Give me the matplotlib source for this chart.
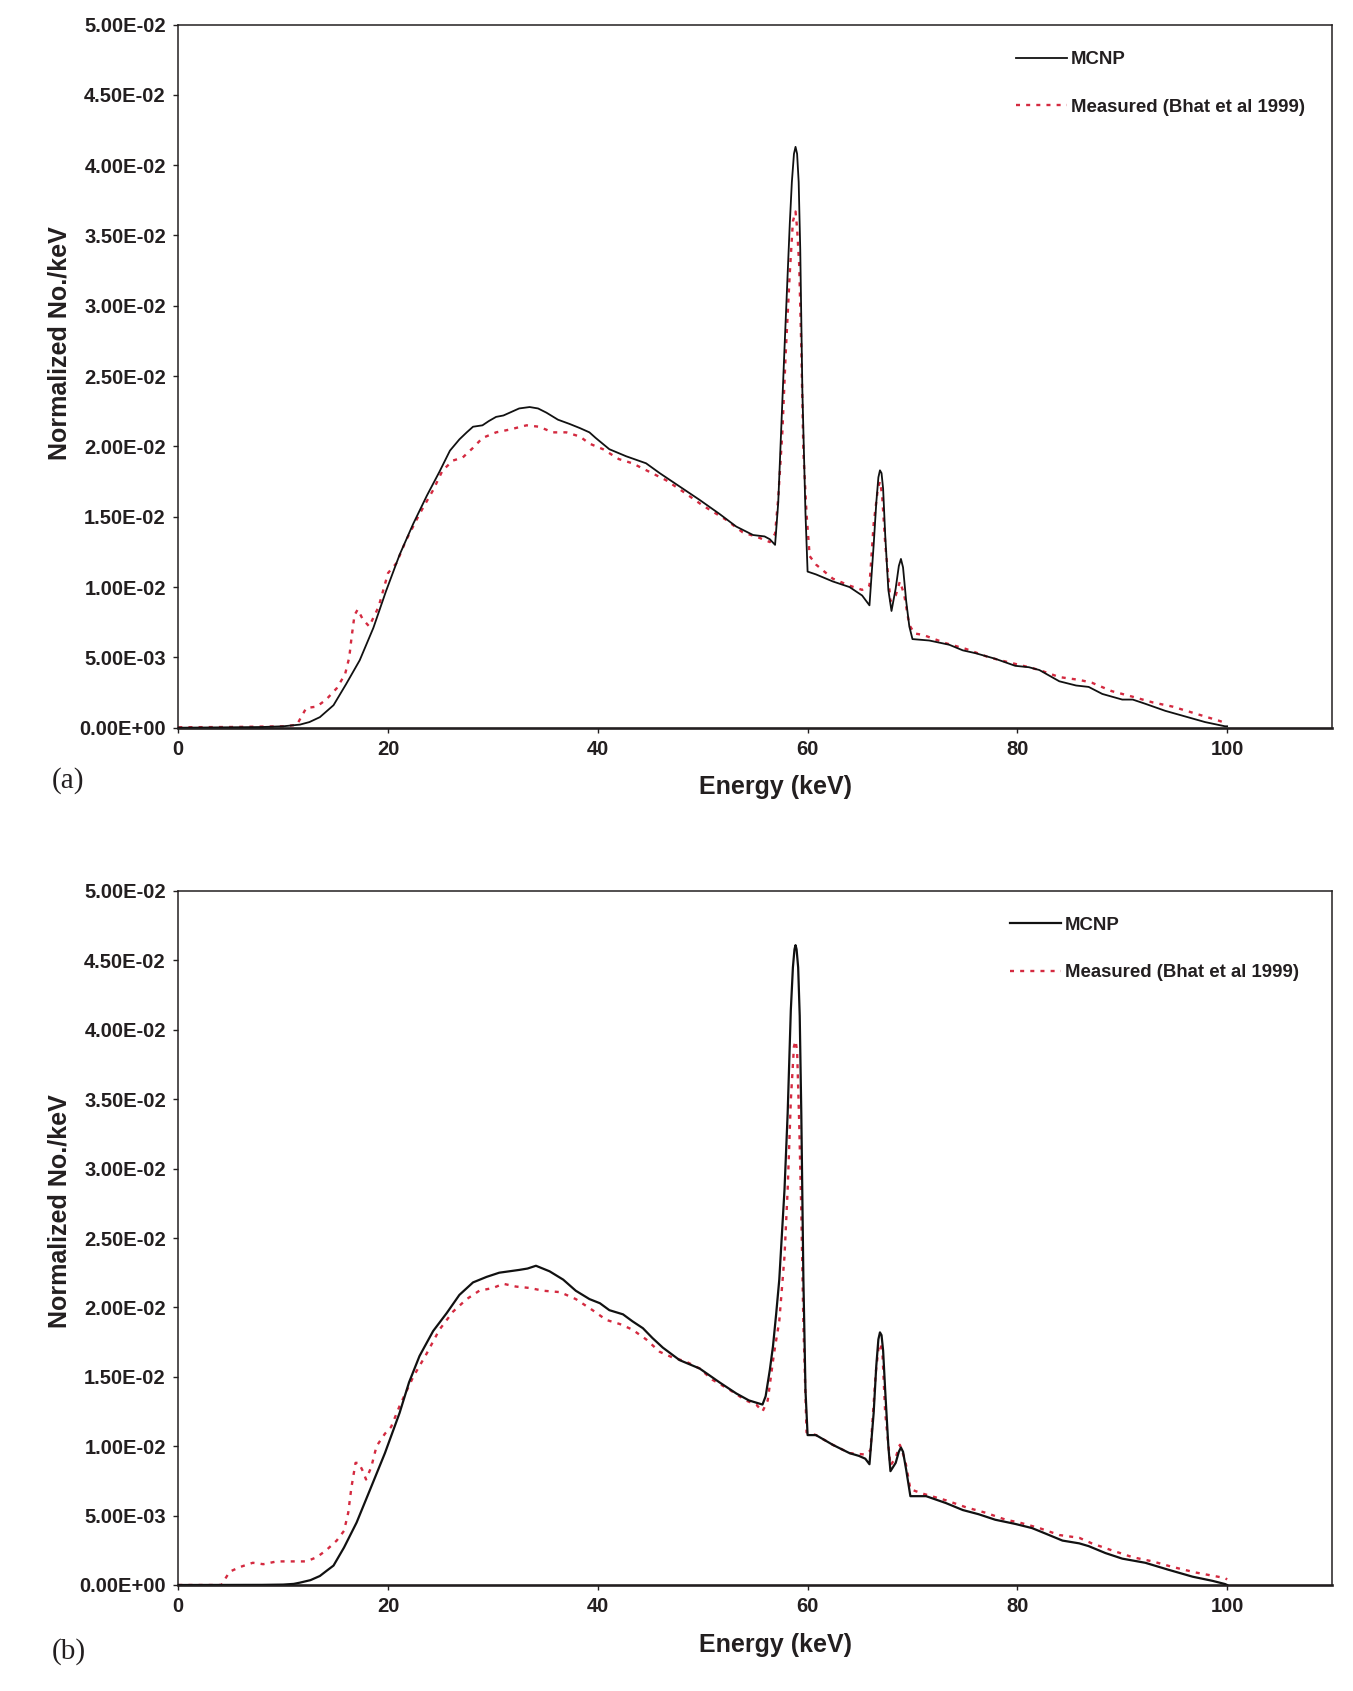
import matplotlib
matplotlib.use("Agg")
import matplotlib.pyplot as plt
from matplotlib.ticker import FuncFormatter, MultipleLocator

# ---------------- data ----------------
# Panel (a)
a_mcnp_E = [0, 5, 8, 10, 11.6, 12.5, 13.5, 14.8, 16.0, 17.3, 18.6, 19.8, 21.1, 22.4, 23.7,
            24.9, 25.9, 26.8, 27.5, 28.1, 29.0, 29.6, 30.3, 31.0, 31.6, 32.5, 33.5, 34.3,
            35.1, 36.2, 37.3, 38.3, 39.2, 39.8, 41.1, 42.7, 44.6, 45.9, 47.5, 49.7, 51.6,
            53.2, 54.8, 55.9, 56.4, 56.9, 57.2, 57.5, 57.8, 58.3, 58.5, 58.7, 58.85, 59.0,
            59.15, 59.3, 59.5, 59.8, 60.0, 60.8, 62.4, 64.0, 65.2, 65.9, 66.3, 66.55, 66.75,
            66.9, 67.05, 67.2, 67.4, 67.7, 68.0, 68.4, 68.7, 68.9, 69.1, 69.4, 69.7, 70.0,
            71.6, 73.5, 74.8, 76.0, 77.9, 79.8, 81.1, 82.1, 84.0, 85.6, 86.8, 88.1, 90.0,
            91.0, 92.2, 94.1, 96.0, 97.9, 99.8, 100]
a_mcnp_v = [0, 0.00003, 0.00005, 0.0001, 0.00022, 0.0004, 0.00075, 0.0016, 0.0031, 0.0048,
            0.0071, 0.0097, 0.0123, 0.0145, 0.0165, 0.0182, 0.0197, 0.0205, 0.0210, 0.0214,
            0.0215, 0.0218, 0.0221, 0.0222, 0.0224, 0.0227, 0.0228, 0.0227, 0.0224, 0.0219,
            0.0216, 0.0213, 0.0210, 0.0206, 0.0198, 0.0193, 0.0188, 0.0181, 0.0173, 0.0162,
            0.0152, 0.0143, 0.0137, 0.0136, 0.0134, 0.0130, 0.0160, 0.0215, 0.0270, 0.0358,
            0.0388, 0.0408, 0.0413, 0.0408, 0.0388, 0.0340, 0.0240, 0.0152, 0.0111, 0.0109,
            0.0104, 0.0100, 0.0094, 0.0087, 0.0130, 0.0160, 0.0178, 0.0183, 0.0181, 0.0170,
            0.0137, 0.0098, 0.0083, 0.0099, 0.0115, 0.0120, 0.0114, 0.0090, 0.0072, 0.0063,
            0.0062, 0.0059, 0.0055, 0.0053, 0.0049, 0.0044, 0.0043, 0.0041, 0.0033, 0.0030,
            0.0029, 0.0024, 0.0020, 0.0020, 0.0017, 0.0012, 0.0008, 0.0004, 0.0001, 0.0001]

a_meas_E = [0, 5, 10, 11.3, 12.2, 13.2, 14.1, 15.1, 15.9, 16.3, 16.5, 16.8, 17.1, 17.6,
            18.2, 19.1, 20.0, 20.8, 21.7, 23.0, 24.3, 25.2, 26.2, 27.1, 28.1, 29.0, 30.3,
            31.6, 33.2, 34.4, 35.7, 37.0, 38.3, 39.2, 40.5, 42.0, 43.3, 44.9, 46.5, 48.1,
            50.0, 52.2, 53.8, 55.4, 56.4, 56.9, 57.2, 57.6, 57.9, 58.3, 58.6, 58.85, 59.0,
            59.2, 59.4, 59.6, 59.9, 60.2, 60.8, 62.4, 64.0, 65.2, 65.9, 66.3, 66.7, 66.9,
            67.1, 67.4, 67.9, 68.4, 68.8, 69.2, 69.7, 70.2, 71.0, 73.2, 75.1, 77.3, 78.9,
            81.1, 82.1, 84.0, 85.9, 87.1, 89.0, 91.0, 92.9, 94.8, 97.0, 99.2, 100]
a_meas_v = [0.00003, 0.00005, 0.0001, 0.0002, 0.0014, 0.0015, 0.0020, 0.0028, 0.0038, 0.0050,
            0.0063, 0.0080, 0.0084, 0.0077, 0.0072, 0.0086, 0.0110, 0.0117, 0.0133, 0.0152,
            0.0169, 0.0183, 0.0190, 0.0192, 0.0199, 0.0206, 0.0210, 0.0212, 0.0215, 0.0214,
            0.0210, 0.0210, 0.0207, 0.0202, 0.0198, 0.0191, 0.0188, 0.0182, 0.0176, 0.0168,
            0.0158, 0.0148, 0.0139, 0.0135, 0.0132, 0.0138, 0.0163, 0.0211, 0.0264, 0.0323,
            0.0360, 0.0367, 0.0355, 0.0329, 0.0270, 0.0196, 0.0152, 0.0122, 0.0116, 0.0106,
            0.0101, 0.0098, 0.0101, 0.0145, 0.0170, 0.0175, 0.0166, 0.0131, 0.0090, 0.0094,
            0.0104, 0.0095, 0.0073, 0.0067, 0.0066, 0.0060, 0.0056, 0.0050, 0.0047, 0.0043,
            0.0041, 0.0036, 0.0034, 0.0032, 0.0026, 0.0022, 0.0018, 0.0015, 0.0010, 0.0005,
            0.0003]

# Panel (b)
b_mcnp_E = [0, 8, 10, 11.0, 11.6, 12.6, 13.5, 14.1, 14.8, 15.8, 17.0, 18.3, 19.7, 21.1,
            22.0, 23.0, 24.3, 25.6, 26.8, 28.1, 29.4, 30.6, 32.5, 33.3, 34.1, 35.4, 36.7,
            37.9, 39.2, 40.2, 41.1, 42.4, 43.3, 44.3, 45.2, 46.2, 47.8, 49.7, 51.6, 53.2,
            54.4, 55.7, 56.0, 56.4, 56.7, 57.0, 57.3, 57.8, 58.1, 58.4, 58.6, 58.75, 58.85,
            58.95, 59.1, 59.25, 59.4, 59.6, 59.8, 60.0, 60.8, 62.4, 64.0, 64.9, 65.5, 65.9,
            66.3, 66.55, 66.75, 66.9, 67.05, 67.2, 67.4, 67.7, 67.9, 68.4, 68.7, 68.9, 69.1,
            69.4, 69.8, 70.6, 71.3, 73.2, 74.8, 76.3, 77.9, 79.8, 81.4, 82.7, 84.3, 85.9,
            86.8, 88.4, 90.0, 92.2, 94.4, 96.7, 98.6, 99.8, 100]
b_mcnp_v = [0, 0.00001, 0.00003, 0.00008, 0.00017, 0.00035, 0.00065, 0.0010, 0.0014, 0.0027,
            0.0045, 0.0069, 0.0095, 0.0124, 0.0146, 0.0165, 0.0183, 0.0196, 0.0209, 0.0218,
            0.0222, 0.0225, 0.0227, 0.0228, 0.0230, 0.0226, 0.0220, 0.0212, 0.0206, 0.0203,
            0.0198, 0.0195, 0.0190, 0.0185, 0.0178, 0.0171, 0.0162, 0.0156, 0.0146, 0.0138,
            0.0133, 0.0130, 0.0136, 0.0155, 0.0172, 0.0195, 0.0220, 0.0285, 0.0340, 0.0414,
            0.0445, 0.0458, 0.0461, 0.0458, 0.0445, 0.0410, 0.0340, 0.0220, 0.0140, 0.0108,
            0.0108, 0.0101, 0.0095, 0.0093, 0.0091, 0.0087, 0.0124, 0.0158, 0.0177, 0.0182,
            0.0180, 0.0169, 0.0140, 0.0100, 0.0082, 0.0088, 0.0096, 0.0099, 0.0096, 0.0083,
            0.0064, 0.0064, 0.0064, 0.0059, 0.0054, 0.0051, 0.0047, 0.0044, 0.0041, 0.0037,
            0.0032, 0.0030, 0.0028, 0.0023, 0.0019, 0.0016, 0.0011, 0.0006, 0.0003, 0.00007, 0]

b_meas_E = [0, 4.1, 4.9, 5.9, 7.1, 8.1, 9.4, 11.0, 12.2, 13.2, 14.1, 15.1, 15.8, 16.2, 16.5,
            16.9, 17.2, 17.6, 17.9, 18.4, 18.9, 19.7, 20.3, 21.1, 22.4, 23.7, 24.9, 26.2,
            27.5, 28.7, 30.0, 31.0, 32.2, 33.5, 34.8, 36.4, 37.9, 39.5, 40.8, 42.1, 43.3,
            44.6, 45.9, 47.1, 48.4, 49.7, 50.9, 52.5, 54.1, 55.1, 55.7, 56.2, 56.8, 57.3,
            57.8, 58.1, 58.4, 58.7, 58.85, 59.0, 59.2, 59.4, 59.6, 59.9, 60.8, 62.4, 64.0,
            65.5, 66.0, 66.5, 66.75, 66.95, 67.15, 67.4, 67.9, 68.4, 68.8, 69.3, 69.8, 70.9,
            73.2, 75.1, 77.0, 78.9, 80.2, 82.1, 84.0, 85.9, 87.1, 89.0, 91.0, 92.9, 94.8,
            97.0, 99.8, 100]
b_meas_v = [0, 0, 0.00096, 0.0013, 0.0016, 0.0015, 0.0017, 0.0017, 0.0017, 0.0020, 0.0025,
            0.0032, 0.0039, 0.0052, 0.0070, 0.0088, 0.0088, 0.0082, 0.0076, 0.0085, 0.0100,
            0.0109, 0.0114, 0.0129, 0.0150, 0.0167, 0.0184, 0.0197, 0.0206, 0.0212, 0.0214,
            0.0217, 0.0215, 0.0214, 0.0212, 0.0211, 0.0206, 0.0198, 0.0191, 0.0188, 0.0184,
            0.0177, 0.0168, 0.0164, 0.0161, 0.0156, 0.0148, 0.0141, 0.0133, 0.0130, 0.0125,
            0.0133, 0.0167, 0.0190, 0.0237, 0.0285, 0.0349, 0.0388, 0.0392, 0.0385, 0.0333,
            0.0269, 0.0188, 0.0110, 0.0108, 0.0101, 0.0095, 0.0094, 0.0097, 0.0153, 0.0170,
            0.0174, 0.0165, 0.0124, 0.0086, 0.0092, 0.0101, 0.0090, 0.0069, 0.0066, 0.0061,
            0.0056, 0.0052, 0.0047, 0.0045, 0.0041, 0.0036, 0.0034, 0.0030, 0.0025, 0.0020,
            0.0017, 0.0013, 0.0009, 0.0005, 0.0004]

x_ticks = [0, 20, 40, 60, 80, 100]
series_labels = ["MCNP", "Measured (Bhat et al 1999)"]
panel_labels = ["(a)", "(b)"]
x_label = "Energy (keV)"
y_label = "Normalized No./keV"

# ---------------- style ----------------
INK = "#231f20"
RED = "#d42a40"
SANS = ["Liberation Sans", "DejaVu Sans"]
SERIF = ["Liberation Serif", "DejaVu Serif"]

fig = plt.figure(figsize=(13.53, 16.91), dpi=100)

W, H = 1353.0, 1691.0
left_px, right_px = 178.3, 1332.0
panels = [
    dict(top=24.5, bottom=727.7, E1=a_mcnp_E, v1=a_mcnp_v, E2=a_meas_E, v2=a_meas_v,
         lw=1.3, leg_x=0.726, leg_y=0.962, ylab_y=0.547, xlab_y=-0.0675, plabel_y=781),
    dict(top=891.0, bottom=1585.0, E1=b_mcnp_E, v1=b_mcnp_v, E2=b_meas_E, v2=b_meas_v,
         lw=1.6, leg_x=0.721, leg_y=0.963, ylab_y=0.539, xlab_y=-0.069, plabel_y=1652),
]

fmt = FuncFormatter(lambda v, pos: "%.2E" % v)

for i, p in enumerate(panels):
    ax = fig.add_axes([left_px / W, 1 - p["bottom"] / H,
                       (right_px - left_px) / W, (p["bottom"] - p["top"]) / H])
    ax.plot(p["E1"], p["v1"], color="#111111", lw=p["lw"], solid_joinstyle="round",
            label=series_labels[0], zorder=3)
    ax.plot(p["E2"], p["v2"], color=RED, lw=1.7, linestyle=(0, (1.7, 2.6)),
            label=series_labels[1], zorder=2)
    ax.set_xlim(0, 110)
    ax.set_ylim(0, 0.05)
    ax.set_xticks(x_ticks)
    ax.yaxis.set_major_locator(MultipleLocator(0.005))
    ax.yaxis.set_major_formatter(fmt)

    for side in ["left", "top", "right"]:
        ax.spines[side].set_linewidth(1.1)
        ax.spines[side].set_color(INK)
    ax.spines["bottom"].set_linewidth(1.9)
    ax.spines["bottom"].set_color(INK)

    ax.tick_params(axis="both", direction="out", length=3.5, width=1.0, color=INK,
                   labelcolor=INK, labelsize=14.5)
    ax.tick_params(axis="y", pad=5.5)
    ax.tick_params(axis="x", pad=5)
    for lab in ax.get_xticklabels() + ax.get_yticklabels():
        lab.set_fontfamily(SANS)
        lab.set_fontweight("bold")

    ax.set_xlabel(x_label, fontsize=18, fontweight="bold", family=SANS, color=INK)
    ax.xaxis.set_label_coords(0.518, p["xlab_y"])
    ax.set_ylabel(y_label, fontsize=18, fontweight="bold", family=SANS, color=INK)
    ax.yaxis.set_label_coords(-0.093, p["ylab_y"])

    leg = ax.legend(loc="upper left", bbox_to_anchor=(p["leg_x"], p["leg_y"]),
                    frameon=False, borderpad=0, borderaxespad=0,
                    handlelength=2.75, handletextpad=0.2, labelspacing=1.65,
                    prop=dict(family=SANS, weight="bold", size=13.4))
    for t in leg.get_texts():
        t.set_color(INK)

    fig.text(52 / W, 1 - p["plabel_y"] / H, panel_labels[i], family=SERIF,
             fontsize=21, color=INK, ha="left", va="center")

fig.savefig("out.png", dpi=100)
